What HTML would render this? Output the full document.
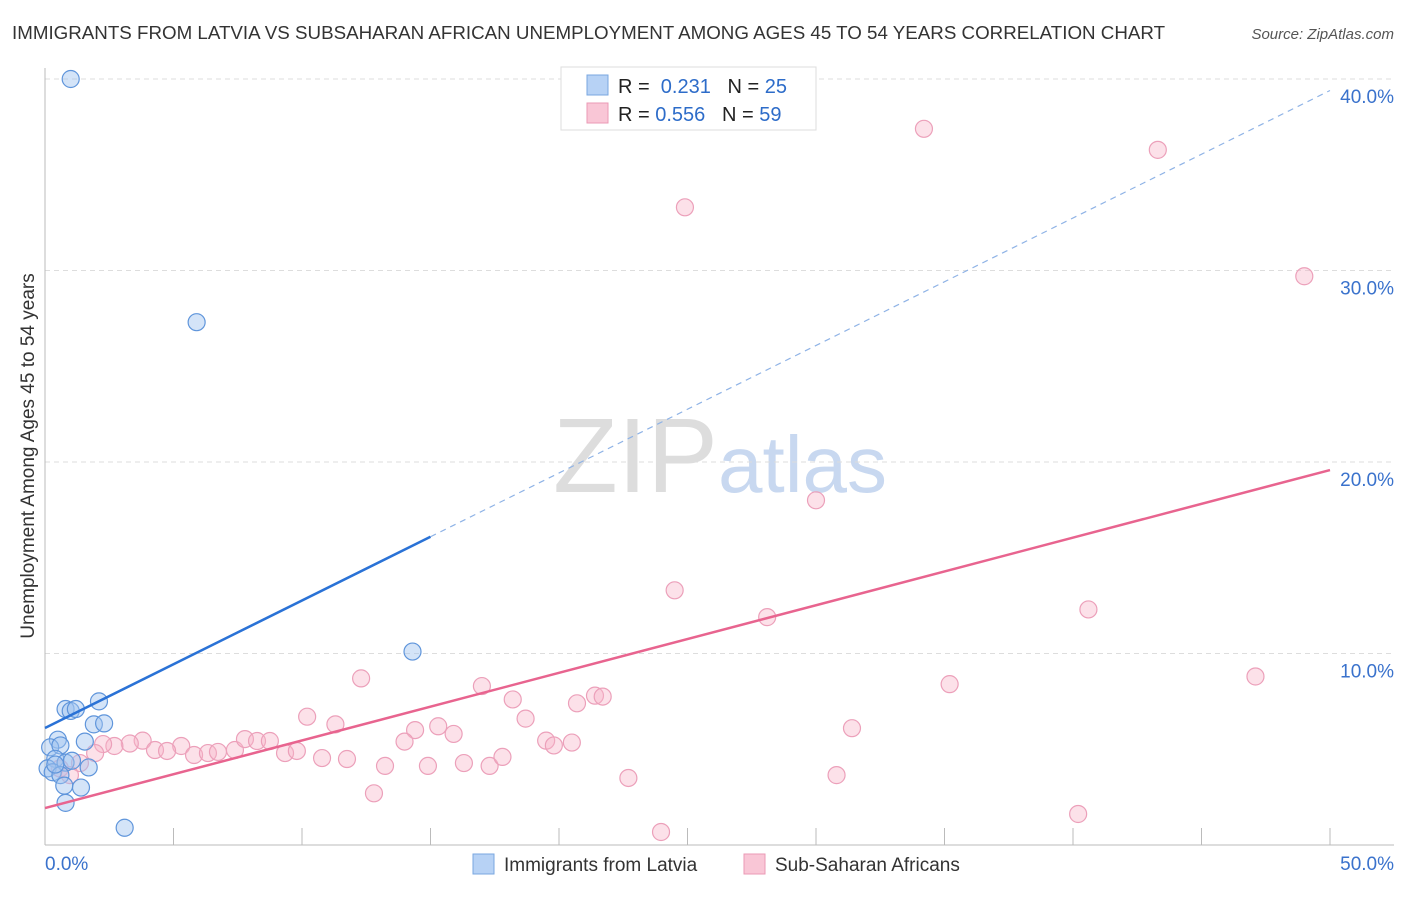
<!DOCTYPE html>
<html><head><meta charset="utf-8"><style>
body{margin:0;background:#fff;font-family:"Liberation Sans",sans-serif;}
svg text{font-family:"Liberation Sans",sans-serif;}
</style></head><body>
<svg id="c" width="1406" height="892">
<text x="12" y="39" font-size="18.75" fill="#333">IMMIGRANTS FROM LATVIA VS SUBSAHARAN AFRICAN UNEMPLOYMENT AMONG AGES 45 TO 54 YEARS CORRELATION CHART</text>
<text x="1394" y="39" font-size="15" fill="#555" font-style="italic" text-anchor="end">Source: ZipAtlas.com</text>
<text transform="translate(34,456) rotate(-90)" font-size="19" fill="#333" text-anchor="middle">Unemployment Among Ages 45 to 54 years</text>
<text x="553" y="492" font-size="106" fill="#ddd" font-family="Liberation Serif">ZIP</text>
<text x="718" y="492" font-size="80" fill="#c8d8f0">atlas</text>
<g id="grid"></g><g id="marks"></g>
<g>
<rect x="561" y="67" width="255" height="63" fill="#fff" stroke="#ddd"/>
<rect x="587" y="75" width="21" height="20" fill="#b7d2f5" stroke="#7aa7e0"/>
<rect x="587" y="103" width="21" height="20" fill="#f9c6d6" stroke="#eb9ab5"/>
<text x="618" y="93" font-size="20" fill="#222" xml:space="preserve">R =  <tspan fill="#2d6cc9">0.231</tspan>   N = <tspan fill="#2d6cc9">25</tspan></text>
<text x="618" y="121" font-size="20" fill="#222" xml:space="preserve">R = <tspan fill="#2d6cc9">0.556</tspan>   N = <tspan fill="#2d6cc9">59</tspan></text>
</g>
<g>
<rect x="473" y="854" width="21" height="20" fill="#b7d2f5" stroke="#7aa7e0"/>
<text x="504" y="871" font-size="19" fill="#333">Immigrants from Latvia</text>
<rect x="744" y="854" width="21" height="20" fill="#f9c6d6" stroke="#eb9ab5"/>
<text x="775" y="871" font-size="19" fill="#333">Sub-Saharan Africans</text>
</g>
</svg>
<script>
const yTicks=[10,20,30,40];
const yTickLabels=["10.0%","20.0%","30.0%","40.0%"];
const blueX=[1.0,5.9,14.3,0.8,1.0,1.2,2.1,1.9,2.3,0.5,1.55,0.2,0.6,0.4,0.1,0.3,0.8,1.05,1.7,0.6,0.75,1.4,0.8,3.1,0.4];
const blueY=[40.0,27.3,10.1,7.1,7.0,7.1,7.5,6.3,6.35,5.5,5.4,5.1,5.2,4.5,4.0,3.8,4.3,4.4,4.05,3.65,3.1,3.0,2.2,0.9,4.2];
const pinkX=[34.2,24.9,43.3,49.0,30.0,24.5,28.1,40.6,12.3,35.2,47.1,17.0,18.2,10.2,11.3,18.7,21.4,21.7,20.7,15.3,14.4,15.9,31.4,13.99,19.5,19.8,20.5,3.8,3.3,2.7,2.26,5.3,4.28,4.75,5.8,6.34,6.73,7.39,7.78,8.25,8.75,9.34,9.8,10.78,11.75,13.23,14.9,16.3,17.3,17.8,22.7,30.8,12.8,23.97,40.2,1.36,1.95,0.58,0.97];
const pinkY=[37.4,33.3,36.3,29.7,18.0,13.3,11.9,12.3,8.7,8.4,8.8,8.3,7.6,6.7,6.3,6.6,7.8,7.75,7.4,6.2,6.0,5.8,6.1,5.4,5.45,5.2,5.35,5.45,5.3,5.17,5.27,5.17,4.96,4.91,4.7,4.8,4.86,4.96,5.53,5.43,5.43,4.8,4.91,4.54,4.49,4.13,4.13,4.28,4.13,4.6,3.5,3.65,2.7,0.68,1.62,4.28,4.8,4.0,3.65];
const blueLine=[6.11,39.4];
const pinkLine=[1.93,19.58];
const X=v=>45+v*25.7, Y=v=>845-v*19.15;
const NS="http://www.w3.org/2000/svg";
const grid=document.getElementById('grid'), marks=document.getElementById('marks');
function mk(tag,a,p){const e=document.createElementNS(NS,tag);for(const k in a)e.setAttribute(k,a[k]);p.appendChild(e);return e;}
yTicks.forEach((t,i)=>{
 const l=mk('line',{x1:45,x2:1394,y1:Y(t),y2:Y(t),stroke:'#ddd','stroke-dasharray':'5,4'},grid);
 
 
 const tx=mk('text',{x:1394,y:Y(t)+24,'font-size':19,fill:'#3a72cc','text-anchor':'end'},grid);
 tx.textContent=yTickLabels[i];
 
 
});
const ax=mk('line',{x1:45,x2:1394,y1:845,y2:845,stroke:'#bbb'},grid);


const ay=mk('line',{x1:45,x2:45,y1:68,y2:845,stroke:'#bbb'},grid);


for(let i=1;i<=10;i++){const t=mk('line',{x1:X(i*5),x2:X(i*5),y1:828,y2:845,stroke:'#bbb'},grid);
 
 }
const x0=mk('text',{x:45,y:870,'font-size':19,fill:'#3a72cc'},grid);x0.textContent='0.0%';


const x1=mk('text',{x:1394,y:870,'font-size':19,fill:'#3a72cc','text-anchor':'end'},grid);x1.textContent='50.0%';


pinkX.forEach((v,i)=>{const c=mk('circle',{cx:X(v),cy:Y(pinkY[i]),r:8.5,fill:'rgba(248,180,200,0.4)',stroke:'#eca0ba','stroke-width':1.2},marks);
 
 });
blueX.forEach((v,i)=>{const c=mk('circle',{cx:X(v),cy:Y(blueY[i]),r:8.5,fill:'rgba(160,195,240,0.45)',stroke:'#5f95db','stroke-width':1.2},marks);
 
 });
const bs=(blueLine[1]-blueLine[0])/50;
const bl=mk('line',{x1:X(0),y1:Y(blueLine[0]),x2:X(15),y2:Y(blueLine[0]+bs*15),stroke:'#2a72d6','stroke-width':2.5},marks);


const bd=mk('line',{x1:X(15),y1:Y(blueLine[0]+bs*15),x2:X(50),y2:Y(blueLine[1]),stroke:'#8fb3e6','stroke-width':1.2,'stroke-dasharray':'6,5'},marks);


const pl=mk('line',{x1:X(0),y1:Y(pinkLine[0]),x2:X(50),y2:Y(pinkLine[1]),stroke:'#e8648f','stroke-width':2.5},marks);


</script>
</body></html>
